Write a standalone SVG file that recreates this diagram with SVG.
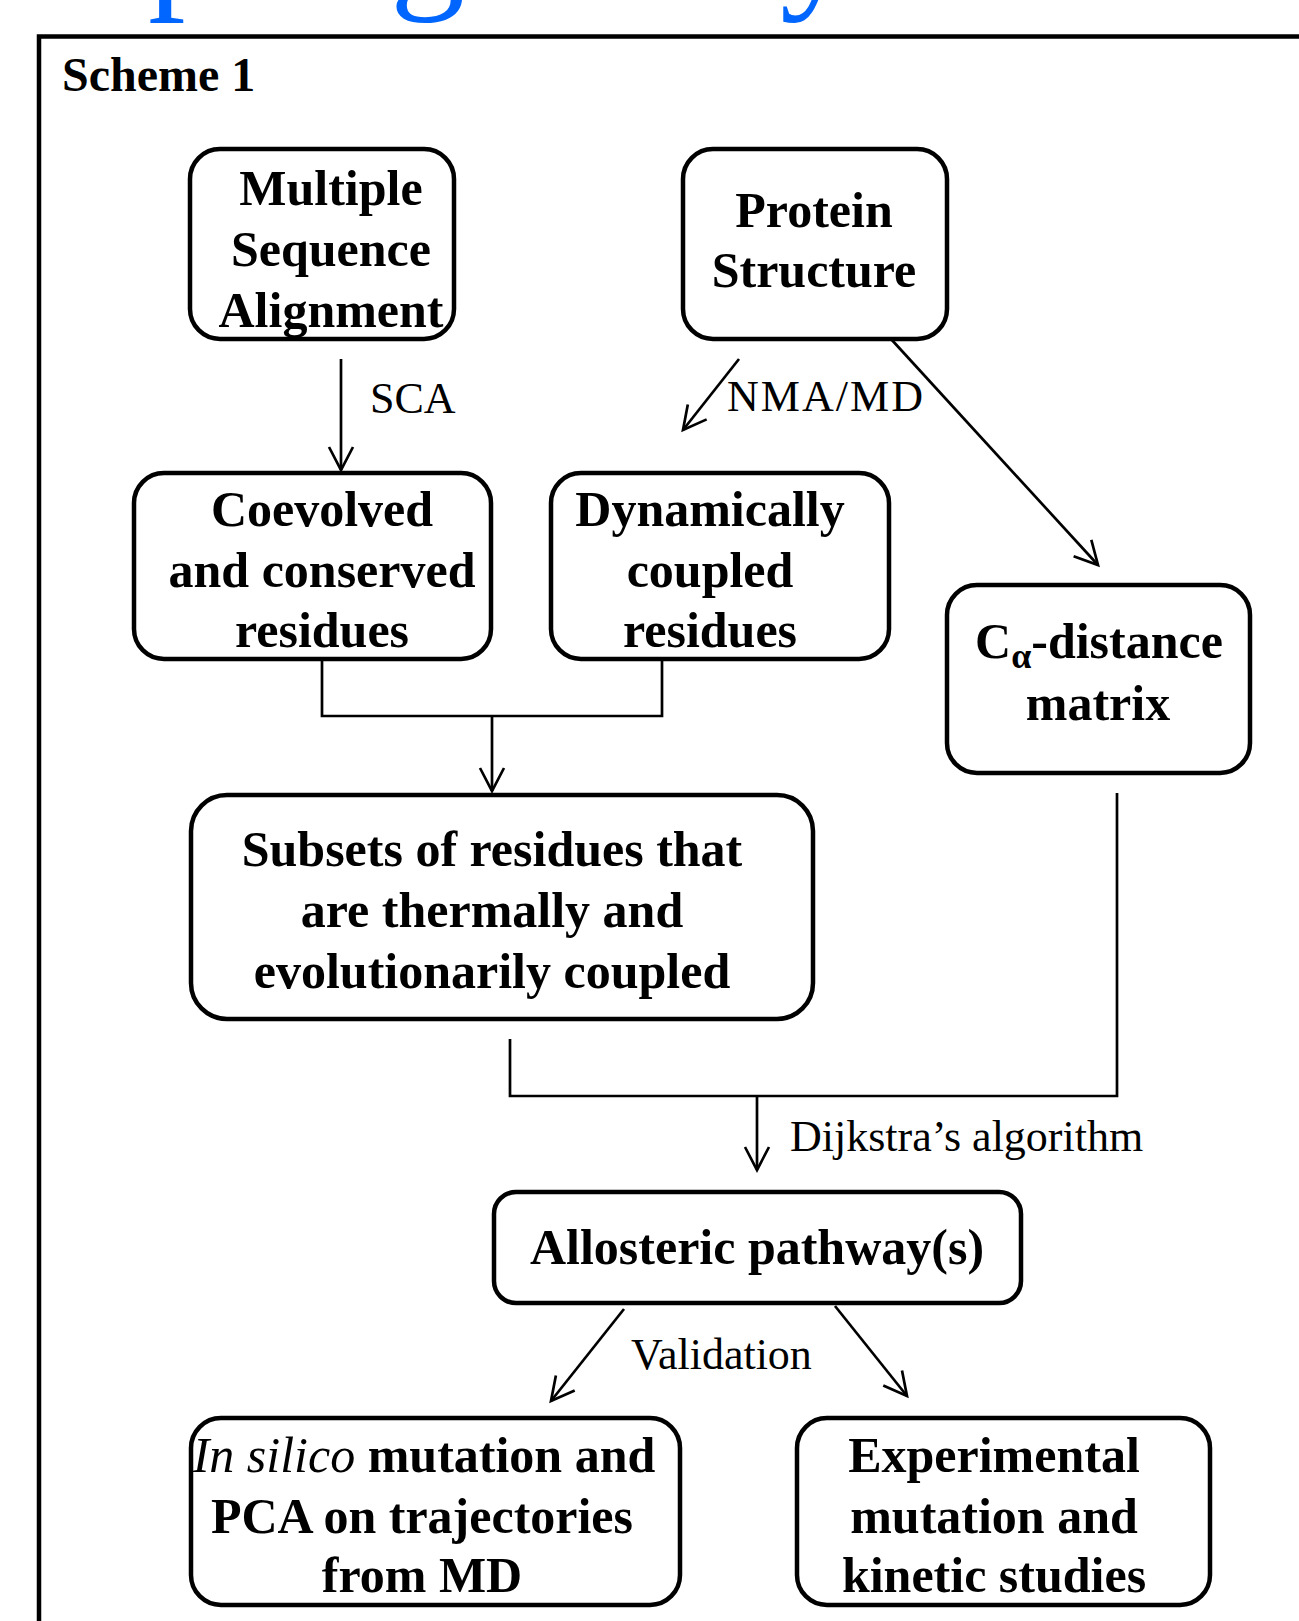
<svg xmlns="http://www.w3.org/2000/svg" width="1299" height="1621" viewBox="0 0 1299 1621">
<style>
.box{fill:#fff;stroke:#000;stroke-width:4.5}
.t{font-family:"Liberation Serif","Times New Roman",serif;font-size:50px;font-weight:bold;fill:#000;text-anchor:middle}
.lbl{font-family:"Liberation Serif","Times New Roman",serif;font-size:44px;fill:#000}
.ln{fill:none;stroke:#000;stroke-width:2.7}
.head{font-family:"Liberation Serif","Times New Roman",serif;font-size:150px;fill:#0066ff}
</style>
<defs>
<marker id="arr" markerUnits="userSpaceOnUse" markerWidth="40" markerHeight="40" refX="0" refY="0" viewBox="-30 -20 40 40" orient="auto" overflow="visible">
<path d="M-23,-12 L0,0 L-23,12" fill="none" stroke="#000" stroke-width="2.7"/>
</marker>
</defs>
<rect width="1299" height="1621" fill="#fff"/>
<g id="headline">
<text class="head" x="148" y="-9.5">p</text>
<text class="head" x="390" y="-9.5">g</text>
<text class="head" x="780" y="-9.5">y</text>
</g>
<path id="frame" d="M39,1630 V36.5 H1310" fill="none" stroke="#000" stroke-width="4.5"/>
<text id="title" x="62" y="91" font-family="Liberation Serif, Times New Roman, serif" font-size="48" font-weight="bold">Scheme 1</text>

<g id="connectors">
<path class="ln" d="M341,359 V470" marker-end="url(#arr)"/>
<path class="ln" d="M739,359 L683,430" marker-end="url(#arr)"/>
<path class="ln" d="M891,339 L1098,565" marker-end="url(#arr)"/>
<path class="ln" d="M322,660 V716 H662 V660"/>
<path class="ln" d="M492,716 V791" marker-end="url(#arr)"/>
<path class="ln" d="M510,1039 V1096 H1117 V793"/>
<path class="ln" d="M757,1096 V1170" marker-end="url(#arr)"/>
<path class="ln" d="M624,1309 L551,1401" marker-end="url(#arr)"/>
<path class="ln" d="M835,1306 L907,1396" marker-end="url(#arr)"/>
<text class="lbl" x="370" y="413">SCA</text>
<text class="lbl" x="727" y="411" textLength="196" lengthAdjust="spacing">NMA/MD</text>
<text class="lbl" x="790" y="1151">Dijkstra’s algorithm</text>
<text class="lbl" x="631" y="1369">Validation</text>
</g>

<g id="msa">
<rect class="box" x="190" y="149" width="264" height="190" rx="30"/>
<text class="t" x="331" y="205">Multiple</text>
<text class="t" x="331" y="266">Sequence</text>
<text class="t" x="331" y="327">Alignment</text>
</g>
<g id="protein">
<rect class="box" x="683" y="149" width="264" height="190" rx="30"/>
<text class="t" x="814" y="227">Protein</text>
<text class="t" x="814" y="287">Structure</text>
</g>
<g id="coevolved">
<rect class="box" x="134" y="473" width="357" height="186" rx="30"/>
<text class="t" x="322" y="526">Coevolved</text>
<text class="t" x="322" y="587">and conserved</text>
<text class="t" x="322" y="647">residues</text>
</g>
<g id="dynamic">
<rect class="box" x="551" y="473" width="338" height="186" rx="30"/>
<text class="t" x="710" y="526">Dynamically</text>
<text class="t" x="710" y="587">coupled</text>
<text class="t" x="710" y="647">residues</text>
</g>
<g id="calpha">
<rect class="box" x="947" y="585" width="303" height="188" rx="30"/>
<text class="t" x="1099" y="658">C<tspan font-size="36" dy="10">α</tspan><tspan dy="-10">-distance</tspan></text>
<text class="t" x="1098" y="720">matrix</text>
</g>
<g id="subsets">
<rect class="box" x="191" y="795" width="622" height="224" rx="36"/>
<text class="t" x="492" y="866">Subsets of residues that</text>
<text class="t" x="492" y="927">are thermally and</text>
<text class="t" x="492" y="988">evolutionarily coupled</text>
</g>
<g id="allosteric">
<rect class="box" x="494" y="1192" width="527" height="111" rx="22"/>
<text class="t" x="757" y="1264">Allosteric pathway(s)</text>
</g>
<g id="insilico">
<rect class="box" x="191" y="1418" width="489" height="187" rx="30"/>
<text class="t" x="424" y="1472"><tspan font-style="italic" font-weight="normal">In silico</tspan> mutation and</text>
<text class="t" x="422" y="1533">PCA on trajectories</text>
<text class="t" x="422" y="1592">from MD</text>
</g>
<g id="experimental">
<rect class="box" x="797" y="1418" width="413" height="187" rx="30"/>
<text class="t" x="994" y="1472">Experimental</text>
<text class="t" x="994" y="1533">mutation and</text>
<text class="t" x="994" y="1592">kinetic studies</text>
</g>
</svg>
